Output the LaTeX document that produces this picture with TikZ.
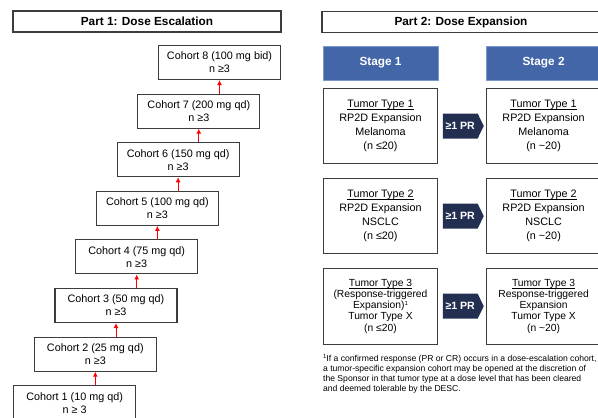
\documentclass[tikz,border=0pt]{standalone}
\usepackage{fontspec}
\setmainfont{Liberation Sans}
\usetikzlibrary{positioning,arrows.meta,shapes.symbols}

\definecolor{stageblue}{RGB}{66,102,168}
\definecolor{stageedge}{RGB}{125,152,204}
\definecolor{prnavy}{RGB}{34,47,80}
\definecolor{boxgray}{RGB}{60,60,60}

\newcommand\tightlines{\lineskiplimit=-5pt\relax}
\newcommand\ul[1]{\underline{\raisebox{0pt}[\height][0pt]{#1}}}
\newcommand\fnmark{{\fontsize{6}{6}\selectfont\raisebox{3pt}{1}}}

\begin{document}
\begin{tikzpicture}[x=1pt,y=-1pt,
			>={Latex[length=5pt,width=5pt]},
			every node/.style={
				align=center,
				font=\fontsize{10.8}{13}\selectfont
			},
			header/.style={draw=boxgray,line width=1.3pt,minimum height=21pt,inner sep=0pt,
				font=\fontsize{11.8}{14}\selectfont\bfseries},
			cohort/.style={draw=boxgray,line width=1.1pt,minimum width=122pt,minimum height=34pt,inner sep=0pt},
			stagebox/.style={fill=stageblue,draw=stageedge,line width=0.8pt,text=white,
				minimum width=115pt,minimum height=34pt,inner sep=0pt,
				font=\fontsize{11.8}{14}\selectfont\bfseries},
			tumor/.style={draw=boxgray,line width=1.1pt,minimum width=114pt,minimum height=75pt,inner sep=0pt,
				font=\fontsize{10.8}{14}\selectfont\tightlines},
			tumortight/.style={tumor,minimum height=76pt,font=\fontsize{10.3}{11.2}\selectfont\tightlines},
			prarrow/.style={signal,signal to=east,signal pointer angle=128,fill=prnavy,text=white,
				minimum width=41pt,minimum height=25pt,inner sep=0pt,
				font=\fontsize{10.6}{12}\selectfont\bfseries},
			escal/.style={->,red,line width=1pt}]
			
			\useasboundingbox(0,0)rectangle(598,418);
			\clip(0,0)rectangle(598,418);
			
			% Part 1
			\node(part1)[header,minimum width=268pt] at (147,21.5){Part 1: Dose Escalation};
			
			\node(c8)[cohort] at (219.5,62.5){Cohort 8 (100 mg bid)\\n ≥3};
			
			\node(c7)[cohort,below=13.5pt of c8,xshift=-20.7pt]{Cohort 7 (200 mg qd)\\n ≥3};
			
			\node(c6)[cohort,below=13.5pt of c7,xshift=-20.7pt]{Cohort 6 (150 mg qd)\\n ≥3};
			
			\node(c5)[cohort,below=13.5pt of c6,xshift=-20.7pt]{Cohort 5 (100 mg qd)\\n ≥3};
			
			\node(c4)[cohort,below=13.5pt of c5,xshift=-20.7pt]{Cohort 4 (75 mg qd)\\n ≥3};
			
			\node(c3)[cohort,below=13.5pt of c4,xshift=-20.7pt]{Cohort 3 (50 mg qd)\\n ≥3};
			
			\node(c2)[cohort,below=13.5pt of c3,xshift=-20.7pt]{Cohort 2 (25 mg qd)\\n ≥3};
			
			\node(c1)[cohort,below=13.5pt of c2,xshift=-20.7pt]{Cohort 1 (10 mg qd)\\n ≥ 3};
			
			\draw[escal](c1.north -| c2.south)--(c2.south);
			
			\draw[escal](c2.north -| c3.south)--(c3.south);
			
			\draw[escal](c3.north -| c4.south)--(c4.south);
			
			\draw[escal](c4.north -| c5.south)--(c5.south);
			
			\draw[escal](c5.north -| c6.south)--(c6.south);
			
			\draw[escal](c6.north -| c7.south)--(c7.south);
			
			\draw[escal](c7.north -| c8.south)--(c8.south);
			
			% Part 2
			\node(part2)[header,minimum width=278pt] at (461,22){Part 2: Dose Expansion};
			
			\node(t1a)[tumor] at (380.5,126){\ul{Tumor Type 1}\\RP2D Expansion\\Melanoma\\(n ≤20)};
			
			\node(t2a)[tumor,below=14pt of t1a]{\ul{Tumor Type 2}\\RP2D Expansion\\NSCLC\\(n ≤20)};
			
			\node(t3a)[tumortight,below=13.5pt of t2a]{\ul{Tumor Type 3}\\(Response-triggered\\Expansion)\fnmark\\Tumor Type X\\(n ≤20)};
			
			\node(t1b)[tumor,right=48pt of t1a]{\ul{Tumor Type 1}\\RP2D Expansion\\Melanoma\\(n \textasciitilde20)};
			
			\node(t2b)[tumor,right=48pt of t2a]{\ul{Tumor Type 2}\\RP2D Expansion\\NSCLC\\(n \textasciitilde20)};
			
			\node(t3b)[tumortight,right=48pt of t3a]{\ul{Tumor Type 3}\\Response-triggered\\Expansion\\Tumor Type X\\(n \textasciitilde20)};
			
			\node(s1)[stagebox,above=7.5pt of t1a]{Stage 1};
			
			\node(s2)[stagebox,above=7.5pt of t1b]{Stage 2};
			
			\node(pr1)[prarrow,right=4.5pt of t1a]{≥1 PR};
			
			\node(pr2)[prarrow,right=4.5pt of t2a]{≥1 PR};
			
			\node(pr3)[prarrow,right=4.5pt of t3a]{≥1 PR};
			
			\node(note)[anchor=north west,inner sep=0pt,align=left,font=\fontsize{8.6}{10}\selectfont]
				at ([yshift=-9pt]t3a.south west){\fnmark If a confirmed response (PR or CR) occurs in a dose-escalation cohort,\\
				a tumor-specific expansion cohort may be opened at the discretion of\\
				the Sponsor in that tumor type at a dose level that has been cleared\\
				and deemed tolerable by the DESC.};
			
		\end{tikzpicture}
\end{document}
